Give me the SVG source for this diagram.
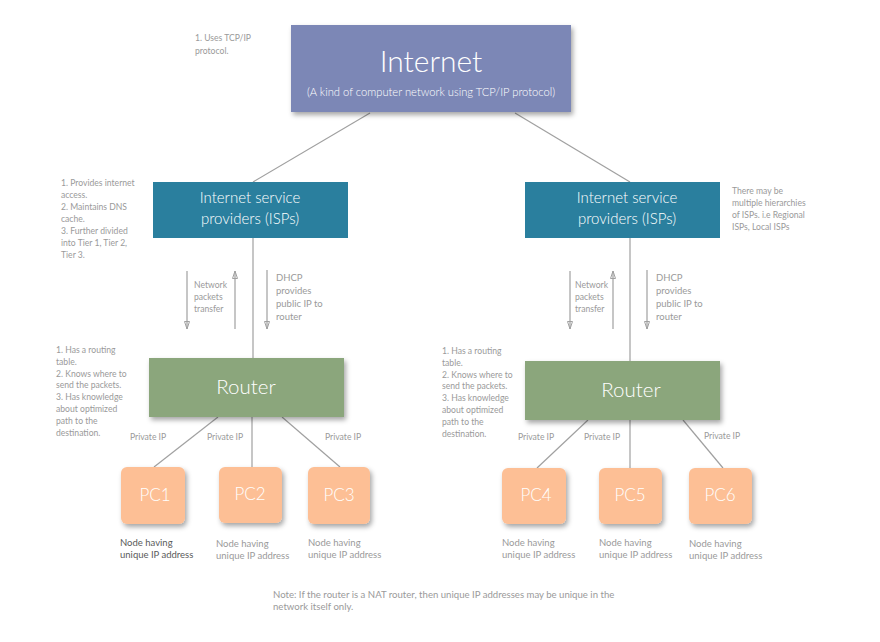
<svg xmlns="http://www.w3.org/2000/svg" width="880" height="642" viewBox="0 0 880 642">
<style>
.note{font-family:Lato,"Noto Sans",sans-serif;font-size:8.6px;fill:#9a9a9a}
.lbl{font-family:Lato,"Noto Sans",sans-serif;font-size:9.5px;fill:#9a9a9a}
.big{font-family:Lato,"Noto Sans",sans-serif;fill:#ffffff;text-anchor:middle;font-weight:300}
.ln{stroke:#a0a0a0;stroke-width:1.2;fill:none}
.ar{stroke:#a0a0a0;stroke-width:1.2;fill:none;marker-end:url(#ah)}
</style>
<defs>
<filter id="sh" x="-10%" y="-10%" width="130%" height="140%">
<feDropShadow dx="2" dy="3" stdDeviation="2.5" flood-color="#000" flood-opacity="0.35"/>
</filter>
<marker id="ah" markerWidth="10" markerHeight="8" refX="9" refY="4" orient="auto" markerUnits="userSpaceOnUse" viewBox="0 0 10 8">
<path d="M1.5,1.5 L9,4 L1.5,6.5 Z" fill="none" stroke="#a0a0a0" stroke-width="1"/>
</marker>
</defs>
<rect width="880" height="642" fill="#ffffff"/>

<g id="connectors">
<line class="ln" x1="370" y1="113" x2="253" y2="182"/>
<line class="ln" x1="515" y1="113" x2="630" y2="182"/>
<line class="ln" x1="253" y1="238" x2="253" y2="358"/>
<line class="ln" x1="630" y1="238" x2="630" y2="361"/>
<line class="ar" x1="187" y1="271" x2="187" y2="329"/>
<line class="ar" x1="235" y1="329" x2="235" y2="271"/>
<line class="ar" x1="267" y1="270" x2="267" y2="329"/>
<line class="ar" x1="570" y1="271" x2="570" y2="329"/>
<line class="ar" x1="613" y1="329" x2="613" y2="271"/>
<line class="ar" x1="647" y1="270" x2="647" y2="329"/>
<line class="ln" x1="218" y1="417" x2="154" y2="467"/>
<line class="ln" x1="252" y1="417" x2="252" y2="467"/>
<line class="ln" x1="282" y1="417" x2="340" y2="467"/>
<line class="ln" x1="588" y1="420" x2="537" y2="468"/>
<line class="ln" x1="630" y1="420" x2="630" y2="468"/>
<line class="ln" x1="683" y1="420" x2="723" y2="468"/>
</g>

<g id="internet">
<rect x="291" y="25" width="280" height="87" fill="#7b87b6" filter="url(#sh)"/>
<text class="big" x="431" y="72" font-size="30">Internet</text>
<text class="big" x="431" y="96" font-size="11.2">(A kind of computer network using TCP/IP protocol)</text>
</g>

<g id="isp-left">
<rect x="153" y="182" width="195" height="56" fill="#2a7f9e"/>
<text class="big" x="250" y="203" font-size="15">Internet service</text>
<text class="big" x="250" y="224" font-size="15">providers (ISPs)</text>
</g>
<g id="isp-right">
<rect x="525" y="182" width="195" height="56" fill="#2a7f9e"/>
<text class="big" x="627" y="203" font-size="15">Internet service</text>
<text class="big" x="627" y="224" font-size="15">providers (ISPs)</text>
</g>

<g id="router-left">
<rect x="149" y="358" width="195" height="59" fill="#8ba67b" filter="url(#sh)"/>
<text class="big" x="246" y="394" font-size="20.5">Router</text>
</g>
<g id="router-right">
<rect x="525" y="361" width="195" height="59" fill="#8ba67b" filter="url(#sh)"/>
<text class="big" x="631" y="397" font-size="20.5">Router</text>
</g>

<g id="pc1"><rect x="121" y="467" width="64" height="57" rx="6" fill="#fdbf95" filter="url(#sh)"/><text class="big" x="155" y="501" font-size="17">PC1</text></g>
<g id="pc2"><rect x="219" y="467" width="63" height="56" rx="6" fill="#fdbf95" filter="url(#sh)"/><text class="big" x="250" y="500" font-size="17">PC2</text></g>
<g id="pc3"><rect x="308" y="467" width="62" height="57" rx="6" fill="#fdbf95" filter="url(#sh)"/><text class="big" x="339" y="501" font-size="17">PC3</text></g>
<g id="pc4"><rect x="502" y="468" width="64" height="56" rx="6" fill="#fdbf95" filter="url(#sh)"/><text class="big" x="536" y="501" font-size="17">PC4</text></g>
<g id="pc5"><rect x="599" y="468" width="63" height="56" rx="6" fill="#fdbf95" filter="url(#sh)"/><text class="big" x="630" y="501" font-size="17">PC5</text></g>
<g id="pc6"><rect x="689" y="468" width="63" height="56" rx="6" fill="#fdbf95" filter="url(#sh)"/><text class="big" x="720" y="501" font-size="17">PC6</text></g>

<g id="labels">
<text class="note" x="195" y="41">1. Uses TCP/IP</text>
<text class="note" x="195" y="54">protocol.</text>

<text class="note" x="61" y="186">1. Provides internet</text>
<text class="note" x="61" y="198">access.</text>
<text class="note" x="61" y="210">2. Maintains DNS</text>
<text class="note" x="61" y="222">cache.</text>
<text class="note" x="61" y="234">3. Further divided</text>
<text class="note" x="61" y="246">into Tier 1, Tier 2,</text>
<text class="note" x="61" y="258">Tier 3.</text>

<text class="note" x="732" y="194">There may be</text>
<text class="note" x="732" y="206">multiple hierarchies</text>
<text class="note" x="732" y="218">of ISPs. i.e Regional</text>
<text class="note" x="732" y="230">ISPs, Local ISPs</text>

<text class="note" x="194" y="288">Network</text>
<text class="note" x="194" y="300">packets</text>
<text class="note" x="194" y="312">transfer</text>
<text class="lbl" x="276" y="281">DHCP</text>
<text class="lbl" x="276" y="294">provides</text>
<text class="lbl" x="276" y="307">public IP to</text>
<text class="lbl" x="276" y="320">router</text>

<text class="note" x="575" y="288">Network</text>
<text class="note" x="575" y="300">packets</text>
<text class="note" x="575" y="312">transfer</text>
<text class="lbl" x="656" y="281">DHCP</text>
<text class="lbl" x="656" y="294">provides</text>
<text class="lbl" x="656" y="307">public IP to</text>
<text class="lbl" x="656" y="320">router</text>

<text class="note" x="56" y="353">1. Has a routing</text>
<text class="note" x="56" y="365">table.</text>
<text class="note" x="56" y="377">2. Knows where to</text>
<text class="note" x="56" y="388">send the packets.</text>
<text class="note" x="56" y="400">3. Has knowledge</text>
<text class="note" x="56" y="412">about optimized</text>
<text class="note" x="56" y="424">path to the</text>
<text class="note" x="56" y="436">destination.</text>

<text class="note" x="442" y="354">1. Has a routing</text>
<text class="note" x="442" y="366">table.</text>
<text class="note" x="442" y="378">2. Knows where to</text>
<text class="note" x="442" y="389">send the packets.</text>
<text class="note" x="442" y="401">3. Has knowledge</text>
<text class="note" x="442" y="413">about optimized</text>
<text class="note" x="442" y="425">path to the</text>
<text class="note" x="442" y="437">destination.</text>

<text class="note" x="130" y="440">Private IP</text>
<text class="note" x="207" y="440">Private IP</text>
<text class="note" x="325" y="440">Private IP</text>
<text class="note" x="518" y="440">Private IP</text>
<text class="note" x="584" y="440">Private IP</text>
<text class="note" x="704" y="439">Private IP</text>

<text class="lbl" x="120" y="546" style="fill:#5a5a5a">Node having</text>
<text class="lbl" x="120" y="558" style="fill:#5a5a5a">unique IP address</text>
<text class="lbl" x="216" y="547">Node having</text>
<text class="lbl" x="216" y="559">unique IP address</text>
<text class="lbl" x="308" y="546">Node having</text>
<text class="lbl" x="308" y="558">unique IP address</text>
<text class="lbl" x="502" y="546">Node having</text>
<text class="lbl" x="502" y="558">unique IP address</text>
<text class="lbl" x="599" y="546">Node having</text>
<text class="lbl" x="599" y="558">unique IP address</text>
<text class="lbl" x="689" y="547">Node having</text>
<text class="lbl" x="689" y="559">unique IP address</text>

<text class="note" x="273" y="598" style="font-size:9.6px">Note: If the router is a NAT router, then unique IP addresses may be unique in the</text>
<text class="note" x="273" y="610" style="font-size:9.6px">network itself only.</text>
</g>
</svg>
